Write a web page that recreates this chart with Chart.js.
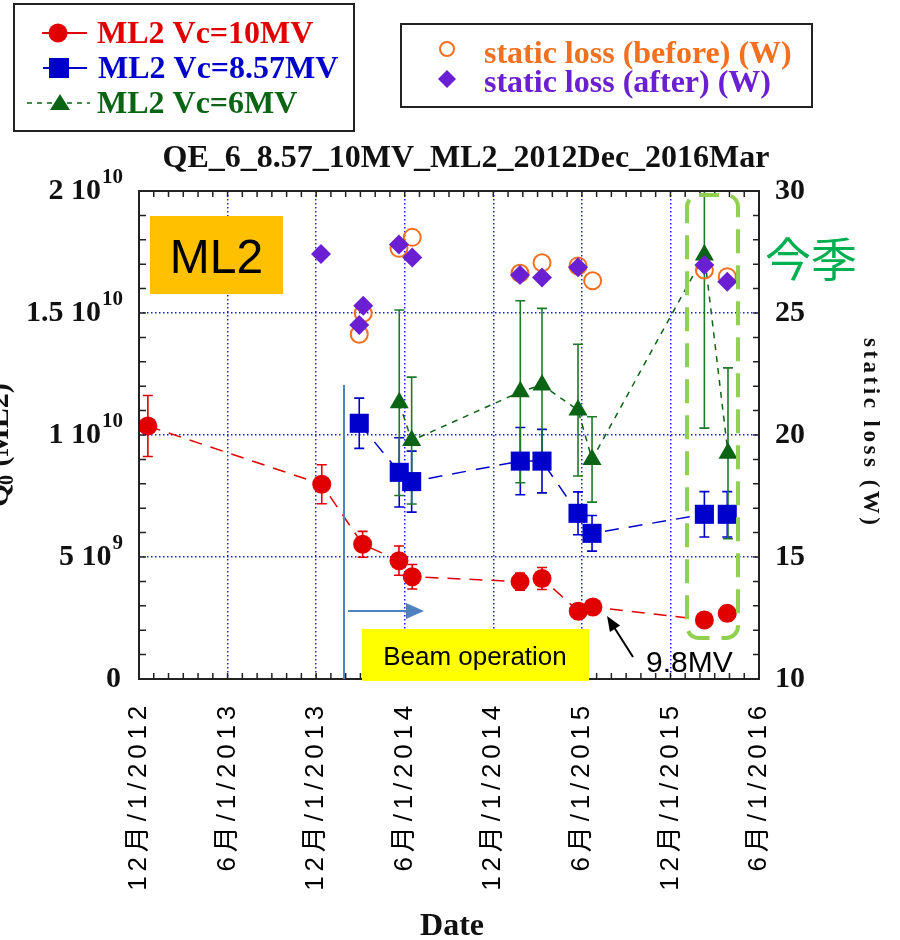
<!DOCTYPE html>
<html><head><meta charset="utf-8">
<script src="https://cdn.jsdelivr.net/npm/chart.js@4.4.1/dist/chart.umd.min.js"></script>
<style>html,body{margin:0;padding:0;background:#fff;}#wrap{position:relative;width:900px;height:940px;}</style>
</head><body><div id="wrap"><canvas id="c" width="900" height="940"></canvas></div>
<script>
// ---- data (x = months since 1 Dec 2012) ----
const xTickLabels = ['12月/1/2012','6月/1/2013','12月/1/2013','6月/1/2014','12月/1/2014','6月/1/2015','12月/1/2015','6月/1/2016'];
const q0TickValues = [0, 5e9, 1e10, 1.5e10, 2e10];
const q0TickBase   = ['0', '5 10', '1 10', '1.5 10', '2 10'];
const q0TickExp    = ['', '9', '10', '10', '10'];

const vc10Month = [0.6, 12.38, 15.15, 17.61, 18.51, 25.81, 27.3, 29.76, 30.75, 38.3, 39.85];
const vc10Q0    = [10.37e9, 7.98e9, 5.52e9, 4.85e9, 4.19e9, 3.99e9, 4.12e9, 2.78e9, 2.95e9, 2.42e9, 2.69e9];
const vc10Err   = [1.25e9, 0.8e9, 0.53e9, 0.6e9, 0.5e9, 0.35e9, 0.45e9, 0.3e9, 0.3e9, 0.3e9, 0.3e9];

const vc857Month = [14.92, 17.63, 18.47, 25.83, 27.3, 29.74, 30.69, 38.3, 39.85];
const vc857Q0    = [10.48e9, 8.47e9, 8.09e9, 8.93e9, 8.93e9, 6.79e9, 5.97e9, 6.75e9, 6.75e9];
const vc857Err   = [1.03e9, 1.42e9, 1.25e9, 1.38e9, 1.3e9, 0.88e9, 0.73e9, 0.93e9, 0.93e9];

const vc6Month = [17.63, 18.47, 25.83, 27.3, 29.74, 30.69, 38.3, 39.9];
const vc6Q0    = [11.32e9, 9.77e9, 11.77e9, 12.05e9, 11.02e9, 9.0e9, 17.38e9, 9.25e9];
const vc6Err   = [3.8e9, 2.6e9, 3.73e9, 3.14e9, 2.7e9, 1.75e9, 7.1e9, 3.5e9];

const lossBeforeMonth = [14.92, 15.19, 17.61, 18.51, 25.81, 27.3, 29.74, 30.73, 38.3, 39.85];
const lossBeforeW     = [24.13, 24.99, 27.65, 28.10, 26.63, 27.06, 26.93, 26.32, 26.76, 26.49];
const lossAfterMonth  = [12.33, 14.92, 15.19, 17.61, 18.51, 25.81, 27.3, 29.74, 38.3, 39.85];
const lossAfterW      = [27.42, 24.51, 25.30, 27.81, 27.27, 26.56, 26.46, 26.87, 26.97, 26.28];

// ---- styles ----
const RED = '#e00000', BLUE = '#0000cc', GREEN = '#0a6414', ORANGE = '#f37021', PURPLE = '#6a1fd2';
const GRID = '#1a1aff';
const SERIF = '"Liberation Serif", "Times New Roman", serif';
const SANS = '"Liberation Sans", Arial, sans-serif';
const CJK = '"Noto Sans CJK JP", "Noto Sans CJK SC", sans-serif';

const pts = (xs, ys) => xs.map((x, i) => ({ x: x, y: ys[i] }));

function setSpacing(ctx, px) { if ('letterSpacing' in ctx) ctx.letterSpacing = px + 'px'; }

const errorBars = {
  id: 'errorBars',
  beforeDatasetsDraw(chart) {
    const ctx = chart.ctx, a = chart.chartArea;
    ctx.save();
    ctx.beginPath(); ctx.rect(a.left, a.top, a.right - a.left, a.bottom - a.top); ctx.clip();
    chart.data.datasets.forEach(ds => {
      if (!ds.errors) return;
      const ys = chart.scales[ds.yAxisID], xs = chart.scales.x;
      ctx.strokeStyle = ds.errColor; ctx.lineWidth = 1.6;
      ds.data.forEach((p, i) => {
        const px = xs.getPixelForValue(p.x);
        const top = ys.getPixelForValue(p.y + ds.errors[i]);
        const bot = ys.getPixelForValue(p.y - ds.errors[i]);
        ctx.beginPath();
        ctx.moveTo(px, top); ctx.lineTo(px, bot);
        ctx.moveTo(px - 5, top); ctx.lineTo(px + 5, top);
        ctx.moveTo(px - 5, bot); ctx.lineTo(px + 5, bot);
        ctx.stroke();
      });
    });
    ctx.restore();
  }
};

function txt(ctx, s, x, y, font, color, align, spacing) {
  ctx.save(); ctx.font = font; ctx.fillStyle = color; ctx.textAlign = align || 'left';
  ctx.textBaseline = 'alphabetic'; setSpacing(ctx, spacing || 0); ctx.fillText(s, x, y); ctx.restore();
}
function rotTxt(ctx, s, x, y, ang, font, color, spacing) {
  ctx.save(); ctx.translate(x, y); ctx.rotate(ang); ctx.font = font; ctx.fillStyle = color;
  ctx.textAlign = 'left'; ctx.textBaseline = 'alphabetic'; setSpacing(ctx, spacing || 0);
  ctx.fillText(s, 0, 0); ctx.restore();
}

const overlay = {
  id: 'overlay',
  beforeDraw(chart) {
    const xs = chart.scales.x;
    if (xs && !xs.__wrapped) {
      const orig = xs.drawLabels;
      xs.drawLabels = function (area) { const c = this.ctx; c.save(); setSpacing(c, 4.8); orig.call(this, area); c.restore(); };
      xs.__wrapped = true;
    }
  },
  afterDatasetsDraw(chart) {
    const ctx = chart.ctx, a = chart.chartArea;
    const xs = chart.scales.x, ys = chart.scales.y;
    ctx.save();
    // plot frame
    ctx.strokeStyle = '#222'; ctx.lineWidth = 2;
    ctx.strokeRect(a.left, a.top, a.right - a.left, a.bottom - a.top);
    // inward ticks
    ctx.lineWidth = 1.5; ctx.beginPath();
    for (let m = 1; m < 42; m++) {
      const px = xs.getPixelForValue(m);
      ctx.moveTo(px, a.top); ctx.lineTo(px, a.top + 6);
      ctx.moveTo(px, a.bottom); ctx.lineTo(px, a.bottom - 6);
    }
    for (let v = 1e9; v < 2e10; v += 1e9) {
      const py = ys.getPixelForValue(v);
      ctx.moveTo(a.left, py); ctx.lineTo(a.left + 7, py);
      ctx.moveTo(a.right, py); ctx.lineTo(a.right - 6, py);
    }
    ctx.stroke();

    // green dashed rounded box
    ctx.save();
    ctx.strokeStyle = '#92d050'; ctx.lineWidth = 4; ctx.setLineDash([24, 12]); ctx.lineDashOffset = 4;
    ctx.beginPath(); ctx.roundRect(687, 195, 51, 443, 12); ctx.stroke();
    ctx.restore();

    // beam operation marker
    ctx.strokeStyle = '#4f81bd'; ctx.fillStyle = '#4f81bd'; ctx.lineWidth = 2;
    ctx.beginPath(); ctx.moveTo(344, 385); ctx.lineTo(344, a.bottom); ctx.stroke();
    ctx.beginPath(); ctx.moveTo(348, 611); ctx.lineTo(408, 611); ctx.stroke();
    ctx.beginPath(); ctx.moveTo(406, 603); ctx.lineTo(424, 611); ctx.lineTo(406, 619); ctx.closePath(); ctx.fill();
    ctx.fillStyle = '#ffff00'; ctx.fillRect(362, 629, 227, 52);
    txt(ctx, 'Beam operation', 475, 665, '26px ' + SANS, '#000', 'center');

    // 9.8MV arrow
    ctx.strokeStyle = '#000'; ctx.fillStyle = '#000'; ctx.lineWidth = 2;
    ctx.beginPath(); ctx.moveTo(633, 657); ctx.lineTo(612, 624); ctx.stroke();
    {
      const tx = 607, ty = 616, ang = Math.atan2(657 - 616, 633 - 607);
      const L = 15, W = 6;
      const bx = tx + Math.cos(ang) * L, by = ty + Math.sin(ang) * L;
      ctx.beginPath(); ctx.moveTo(tx, ty);
      ctx.lineTo(bx - Math.sin(ang) * W, by + Math.cos(ang) * W);
      ctx.lineTo(bx + Math.sin(ang) * W, by - Math.cos(ang) * W);
      ctx.closePath(); ctx.fill();
    }
    txt(ctx, '9.8MV', 646, 672, '30px ' + SANS, '#000', 'left');

    // ML2 label
    ctx.fillStyle = '#ffc000'; ctx.fillRect(150, 216, 133, 78);
    txt(ctx, 'ML2', 216.5, 273, '48px ' + SANS, '#000', 'center');
    // 今季
    txt(ctx, '今季', 765, 276, '46px ' + CJK, '#00b050', 'left');

    // left tick labels with exponent
    q0TickValues.forEach((v, i) => {
      const py = ys.getPixelForValue(v);
      ctx.font = 'bold 21px ' + SERIF;
      const supW = q0TickExp[i] ? ctx.measureText(q0TickExp[i]).width : 0;
      const right = q0TickExp[i] ? 123 : 121;
      txt(ctx, q0TickBase[i], right - supW - (supW ? 1 : 0), py + 8, 'bold 30px ' + SERIF, '#111', 'right');
      if (q0TickExp[i]) txt(ctx, q0TickExp[i], right - supW, py - 8, 'bold 21px ' + SERIF, '#111', 'left');
    });

    // titles
    txt(ctx, 'QE_6_8.57_10MV_ML2_2012Dec_2016Mar', 466, 167, 'bold 32px ' + SERIF, '#111', 'center');
    txt(ctx, 'Date', 452, 935, 'bold 32px ' + SERIF, '#111', 'center');
    rotTxt(ctx, 'static loss (W)', 864, 338, Math.PI / 2, 'bold 23px ' + SERIF, '#111', 3.5);
    // left axis title (partly cut off at the page edge)
    rotTxt(ctx, 'Q', 8, 507, -Math.PI / 2, 'bold 30px ' + SERIF, '#111', 0);
    rotTxt(ctx, '0', 13, 485, -Math.PI / 2, 'bold 20px ' + SERIF, '#111', 0);
    rotTxt(ctx, ' (ML2)', 8, 474, -Math.PI / 2, 'bold 30px ' + SERIF, '#111', 0);

    // legend box 1
    ctx.strokeStyle = '#222'; ctx.lineWidth = 2; ctx.setLineDash([]);
    ctx.strokeRect(14, 4, 340, 127);
    ctx.lineWidth = 2;
    ctx.strokeStyle = RED; ctx.beginPath(); ctx.moveTo(42, 33); ctx.lineTo(87, 33); ctx.stroke();
    ctx.fillStyle = RED; ctx.beginPath(); ctx.arc(58, 33, 9.5, 0, Math.PI * 2); ctx.fill();
    txt(ctx, 'ML2 Vc=10MV', 97, 43, 'bold 32px ' + SERIF, RED, 'left');
    ctx.strokeStyle = BLUE; ctx.beginPath(); ctx.moveTo(43, 68); ctx.lineTo(87, 68); ctx.stroke();
    ctx.fillStyle = BLUE; ctx.fillRect(49, 58, 20, 20);
    txt(ctx, 'ML2 Vc=8.57MV', 98, 78, 'bold 32px ' + SERIF, BLUE, 'left');
    ctx.save(); ctx.strokeStyle = GREEN; ctx.lineWidth = 1.5; ctx.setLineDash([5, 5]);
    ctx.beginPath(); ctx.moveTo(27, 103); ctx.lineTo(90, 103); ctx.stroke(); ctx.restore();
    ctx.fillStyle = GREEN; ctx.beginPath(); ctx.moveTo(60, 94); ctx.lineTo(70, 110); ctx.lineTo(50, 110); ctx.closePath(); ctx.fill();
    txt(ctx, 'ML2 Vc=6MV', 97, 113, 'bold 32px ' + SERIF, GREEN, 'left');

    // legend box 2
    ctx.strokeStyle = '#222'; ctx.lineWidth = 2;
    ctx.strokeRect(401, 24, 411, 83);
    ctx.strokeStyle = ORANGE; ctx.beginPath(); ctx.arc(447, 49, 7, 0, Math.PI * 2); ctx.stroke();
    txt(ctx, 'static loss (before) (W)', 484, 63, 'bold 32px ' + SERIF, ORANGE, 'left');
    ctx.fillStyle = PURPLE; ctx.beginPath(); ctx.moveTo(447, 70); ctx.lineTo(456, 79); ctx.lineTo(447, 88); ctx.lineTo(438, 79); ctx.closePath(); ctx.fill();
    txt(ctx, 'static loss (after) (W)', 484, 92, 'bold 32px ' + SERIF, PURPLE, 'left');
    ctx.restore();
  }
};

const gridColor = (lo, hi) => (c) => (c.tick && c.tick.value > lo && c.tick.value < hi) ? GRID : 'rgba(0,0,0,0)';

new Chart(document.getElementById('c'), {
  type: 'scatter',
  data: {
    datasets: [
      { label: 'static loss (after) (W)', data: pts(lossAfterMonth, lossAfterW), yAxisID: 'y2', showLine: false,
        pointStyle: 'rectRot', pointRadius: 10, pointBackgroundColor: PURPLE, pointBorderColor: PURPLE, pointBorderWidth: 0 },
      { label: 'static loss (before) (W)', data: pts(lossBeforeMonth, lossBeforeW), yAxisID: 'y2', showLine: false,
        pointStyle: 'circle', pointRadius: 8.5, pointBackgroundColor: 'rgba(0,0,0,0)', pointBorderColor: ORANGE, pointBorderWidth: 2 },
      { label: 'ML2 Vc=10MV', data: pts(vc10Month, vc10Q0), yAxisID: 'y', showLine: true,
        borderColor: RED, borderWidth: 1.5, borderDash: [13, 9],
        pointStyle: 'circle', pointRadius: 9.5, pointBackgroundColor: RED, pointBorderColor: RED, pointBorderWidth: 0,
        errors: vc10Err, errColor: RED },
      { label: 'ML2 Vc=8.57MV', data: pts(vc857Month, vc857Q0), yAxisID: 'y', showLine: true,
        borderColor: BLUE, borderWidth: 1.5, borderDash: [14, 10],
        pointStyle: 'rect', pointRadius: 13.5, pointBackgroundColor: BLUE, pointBorderColor: BLUE, pointBorderWidth: 0,
        errors: vc857Err, errColor: BLUE },
      { label: 'ML2 Vc=6MV', data: pts(vc6Month, vc6Q0), yAxisID: 'y', showLine: true,
        borderColor: GREEN, borderWidth: 1.5, borderDash: [6, 6],
        pointStyle: 'triangle', pointRadius: 11, pointBackgroundColor: GREEN, pointBorderColor: GREEN, pointBorderWidth: 0,
        errors: vc6Err, errColor: '#1d7a2a' }
    ]
  },
  options: {
    responsive: false, animation: false, events: [],
    layout: { padding: { top: 191, left: 0, right: 0, bottom: 0 } },
    plugins: { legend: { display: false }, title: { display: false }, tooltip: { enabled: false } },
    scales: {
      x: {
        type: 'linear', position: 'bottom', min: 0, max: 42,
        ticks: { stepSize: 6, autoSkip: false, minRotation: 90, maxRotation: 90, padding: 22, color: '#000',
          font: { family: '"Liberation Sans", Arial, "Noto Sans CJK JP"', size: 26 },
          callback: (v, i) => xTickLabels[i] },
        grid: { drawTicks: false, color: gridColor(0, 42), lineWidth: 1.5 },
        border: { display: false, dash: [1.5, 2.5] },
        afterFit: (s) => { s.height = 261; }
      },
      y: {
        type: 'linear', position: 'left', min: 0, max: 2e10,
        ticks: { stepSize: 5e9, display: false },
        grid: { drawTicks: false, color: gridColor(0, 2e10), lineWidth: 1.5 },
        border: { display: false, dash: [1.5, 2.5] },
        afterFit: (s) => { s.width = 139; }
      },
      y2: {
        type: 'linear', position: 'right', min: 10, max: 30,
        ticks: { stepSize: 5, padding: 16, color: '#111', font: { family: '"Liberation Serif", "Times New Roman", serif', size: 30, weight: 'bold' } },
        grid: { drawOnChartArea: false, drawTicks: false },
        border: { display: false },
        afterFit: (s) => { s.width = 141; }
      }
    }
  },
  plugins: [errorBars, overlay]
});
</script></body></html>
